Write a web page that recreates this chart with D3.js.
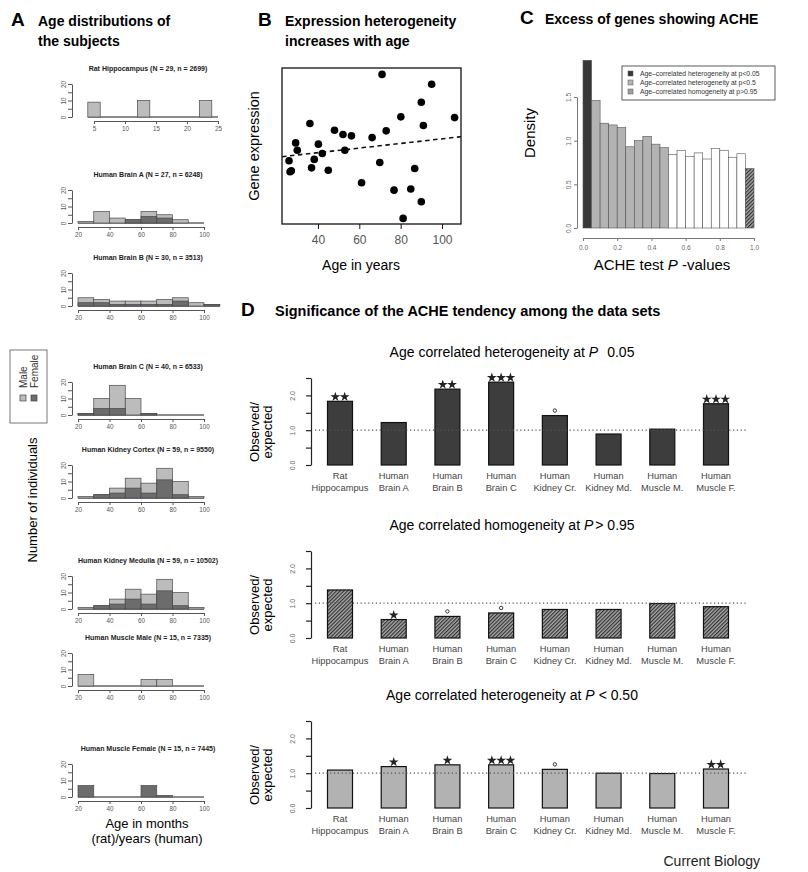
<!DOCTYPE html>
<html>
<head>
<meta charset="utf-8">
<script src="https://cdn.jsdelivr.net/npm/d3@7"></script>
<style>
  body { margin: 0; background: #fff; }
  svg { display: block; font-family: 'Liberation Sans', Arial, Helvetica, sans-serif; }
</style>
</head>
<body>
<div id="fig"></div>
<script>
'use strict';

// ---------- panel A : age histograms (total count, female part) ----------
var histTitles = [
  'Rat Hippocampus  (N = 29, n = 2699)',
  'Human Brain A  (N = 27, n = 6248)',
  'Human Brain B  (N = 30, n = 3513)',
  'Human Brain C  (N = 40, n = 6533)',
  'Human Kidney Cortex  (N = 59, n = 9550)',
  'Human Kidney Medulla  (N = 59, n = 10502)',
  'Human Muscle Male  (N = 15, n = 7335)',
  'Human Muscle Female  (N = 15, n = 7445)'
];
var ratTicks = [5, 10, 15, 20, 25];
var humanTicks = [20, 40, 60, 80, 100];
var countTicks = [0, 5, 10, 15, 20];

var ratTotal = [9, 0, 0, 0, 10, 0, 0, 0, 0, 10];          // bins of 2 months from 4
var brainATotal = [1, 7, 3, 2, 7, 5, 2, 0];               // bins of 10 years from 20
var brainAFemale = [0, 0, 0, 2, 4, 3, 0, 0];
var brainBTotal = [5, 4, 3, 3, 3, 4, 5, 2, 1];
var brainBFemale = [2, 2, 1, 1, 1, 1, 3, 0, 1];
var brainCTotal = [1, 10, 18, 10, 1, 0, 0, 0];
var brainCFemale = [1, 4, 4, 0, 1, 0, 0, 0];
var kidneyTotal = [1, 2, 6, 12, 9, 18, 10, 1];
var kidneyFemale = [0, 2, 3, 6, 3, 11, 2, 0];
var muscleMaleTotal = [7, 0, 0, 0, 4, 4, 0, 0];
var muscleFemaleTotal = [7, 0, 0, 0, 7, 1, 0, 0];

// ---------- panel B : example gene ----------
var ages = [26.0, 26.5, 27.1, 29.2, 30.0, 36.1, 36.9, 38.2, 40.2, 42.1, 45.0, 48.0, 52.1, 53.0, 56.2,
  61.1, 66.2, 69.9, 71.0, 73.0, 76.8, 80.1, 84.9, 86.8, 90.0, 90.0, 91.0, 95.0, 81.2, 106.1];
var expression = [4.05, 3.35, 3.41, 5.20, 4.73, 6.44, 3.60, 4.14, 5.12, 4.52, 3.45, 6.01, 5.74, 4.73, 5.65,
  2.64, 5.54, 3.94, 9.59, 5.97, 2.17, 6.87, 2.24, 3.56, 7.80, 1.43, 6.31, 8.96, 0.36, 6.82];
var trendIntercept = 3.98;
var trendSlope = 0.0148;
var ageTicks = [40, 60, 80, 100];

// ---------- panel C : p-value histogram ----------
var pBinWidth = 0.05;
var pDensity = [1.92, 1.46, 1.20, 1.18, 1.15, 0.93, 1.00, 1.05, 0.96, 0.92,
  0.84, 0.89, 0.82, 0.86, 0.79, 0.91, 0.89, 0.81, 0.85, 0.68];
var pTicks = [0, 0.2, 0.4, 0.6, 0.8, 1.0];
var densityTicks = [0, 0.5, 1.0, 1.5];
var pLegend = ['Age\u2013correlated heterogeneity at p<0.05', 'Age\u2013correlated heterogeneity at p<0.5',
  'Age\u2013correlated homogeneity at p>0.95'];

// ---------- panel D : observed / expected per data set ----------
var datasets = ['Rat Hippocampus', 'Human Brain A', 'Human Brain B', 'Human Brain C',
  'Human Kidney Cr.', 'Human Kidney Md.', 'Human Muscle M.', 'Human Muscle F.'];
var het05 = [1.83, 1.22, 2.18, 2.38, 1.42, 0.89, 1.03, 1.76];
var het05Marks = ['**', '', '**', '***', 'o', '', '', '***'];
var hom95 = [1.38, 0.53, 0.62, 0.72, 0.82, 0.82, 0.99, 0.90];
var hom95Marks = ['', '*', 'o', 'o', '', '', '', ''];
var het50 = [1.09, 1.19, 1.24, 1.24, 1.11, 1.00, 0.99, 1.12];
var het50Marks = ['', '*', '*', '***', 'o', '', '', '**'];
var ratioTicks = [0, 0.5, 1.0, 1.5, 2.0, 2.5];

var LIGHT = '#bcbcbc';
var DARK = '#6c6c6c';

var svg = d3.select('#fig').append('svg').attr('width', 808).attr('height', 872);
svg.append('rect').attr('width', 808).attr('height', 872).attr('fill', '#fff');

var defs = svg.append('defs');
var hatch = defs.append('pattern').attr('id', 'hatch').attr('patternUnits', 'userSpaceOnUse')
  .attr('width', 2.6).attr('height', 2.6).attr('patternTransform', 'rotate(45)');
hatch.append('rect').attr('width', 2.6).attr('height', 2.6).attr('fill', '#a8a8a8');
hatch.append('line').attr('x1', 0.6).attr('y1', 0).attr('x2', 0.6).attr('y2', 2.6)
  .attr('stroke', '#2a2a2a').attr('stroke-width', 1.1);

function heading(letter, lines, x, xText, y, size) {
  svg.append('text').attr('x', x).attr('y', y).attr('font-size', 19).attr('font-weight', 'bold').text(letter);
  lines.forEach(function (l, i) {
    svg.append('text').attr('x', xText).attr('y', y + i * 20).attr('font-size', size)
      .attr('font-weight', 'bold').text(l);
  });
}

heading('A', ['Age distributions of', 'the subjects'], 11, 38, 26, 14);
heading('B', ['Expression heterogeneity', 'increases with age'], 258, 285, 26, 14);
heading('C', ['Excess of genes showing ACHE'], 520, 545, 24, 14);
heading('D', ['Significance of the ACHE tendency among the data sets'], 241, 275, 316, 14.5);

// ---------------- panel A ----------------
var histBase = [117, 223, 306, 415, 498, 609, 686, 797];
var hists = [
  { total: ratTotal, female: null, start: 4, bw: 2, ticks: ratTicks, dom: [5, 25], rng: [94, 218] },
  { total: brainATotal, female: brainAFemale, start: 20, bw: 10, ticks: humanTicks },
  { total: brainBTotal, female: brainBFemale, start: 20, bw: 10, ticks: humanTicks },
  { total: brainCTotal, female: brainCFemale, start: 20, bw: 10, ticks: humanTicks },
  { total: kidneyTotal, female: kidneyFemale, start: 20, bw: 10, ticks: humanTicks },
  { total: kidneyTotal, female: kidneyFemale, start: 20, bw: 10, ticks: humanTicks },
  { total: muscleMaleTotal, female: null, start: 20, bw: 10, ticks: humanTicks },
  { total: null, female: muscleFemaleTotal, start: 20, bw: 10, ticks: humanTicks }
];

function binsOf(counts, start, bw) {
  return counts.map(function (c, i) { return { x0: start + i * bw, x1: start + (i + 1) * bw, n: c }; });
}

hists.forEach(function (h, k) {
  var y0 = histBase[k];
  var x = d3.scaleLinear().domain(h.dom || [20, 100]).range(h.rng || [78, 204]);
  var y = d3.scaleLinear().domain([0, 20]).range([y0, y0 - 33]);
  var g = svg.append('g');

  g.append('text').attr('x', 148).attr('y', y0 - 46).attr('text-anchor', 'middle')
    .attr('font-size', 7).attr('font-weight', 'bold').attr('fill', '#222').text(histTitles[k]);

  var n = (h.total || h.female).length;
  var last = h.start + n * h.bw;
  g.append('line').attr('x1', x(h.start)).attr('x2', x(Math.max(last, d3.max(h.ticks))))
    .attr('y1', y0).attr('y2', y0).attr('stroke', '#666').attr('stroke-width', 1.6);

  [[h.total, LIGHT], [h.female, DARK]].forEach(function (s) {
    if (!s[0]) return;
    g.selectAll(null).data(binsOf(s[0], h.start, h.bw).filter(function (b) { return b.n > 0; }))
      .enter().append('rect')
      .attr('x', function (b) { return x(b.x0); })
      .attr('width', function (b) { return x(b.x1) - x(b.x0); })
      .attr('y', function (b) { return y(b.n); })
      .attr('height', function (b) { return y0 - y(b.n); })
      .attr('fill', s[1]).attr('stroke', '#4a4a4a').attr('stroke-width', 0.7);
  });

  var xa = g.append('g').attr('transform', 'translate(0,' + (y0 + 4) + ')')
    .call(d3.axisBottom(x).tickValues(h.ticks).tickSize(3).tickSizeOuter(0));
  xa.select('.domain').attr('stroke', '#555');
  xa.selectAll('line').attr('stroke', '#555');
  xa.selectAll('text').attr('font-size', 6.3).attr('fill', '#555').attr('y', 6);

  var ya = g.append('g').attr('transform', 'translate(72,0)')
    .call(d3.axisLeft(y).tickValues(countTicks).tickSize(4).tickSizeOuter(0)
      .tickFormat(function (d) { return d % 10 === 0 ? d : ''; }));
  ya.select('.domain').attr('stroke', '#555');
  ya.selectAll('line').attr('stroke', '#555');
  ya.selectAll('text').attr('font-size', 6.3).attr('fill', '#555').attr('transform', 'rotate(-90)')
    .attr('x', 0).attr('y', -6).attr('dy', 0).attr('text-anchor', 'middle');
});

// legend and axis titles for A
svg.append('rect').attr('x', 10).attr('y', 350).attr('width', 37).attr('height', 73)
  .attr('fill', '#fff').attr('stroke', '#555').attr('stroke-width', 0.8);
[['Male', LIGHT, 27], ['Female', DARK, 38]].forEach(function (e) {
  svg.append('rect').attr('x', e[2] - 7).attr('y', 395).attr('width', 6).attr('height', 6)
    .attr('fill', e[1]).attr('stroke', '#444').attr('stroke-width', 0.7);
  svg.append('text').attr('transform', 'translate(' + e[2] + ',388) rotate(-90)')
    .attr('font-size', 10).attr('fill', '#333').text(e[0]);
});
svg.append('text').attr('transform', 'translate(37,500) rotate(-90)').attr('text-anchor', 'middle')
  .attr('font-size', 13).text('Number of individuals');
svg.append('text').attr('x', 147).attr('y', 828).attr('text-anchor', 'middle').attr('font-size', 13)
  .text('Age in months');
svg.append('text').attr('x', 147).attr('y', 843).attr('text-anchor', 'middle').attr('font-size', 13)
  .text('(rat)/years (human)');

// ---------------- panel B ----------------
(function () {
  var x = d3.scaleLinear().domain([22.6, 109.2]).range([282, 461]);
  var y = d3.scaleLinear().domain([0, 10]).range([224, 68]);
  var g = svg.append('g');
  g.append('rect').attr('x', x.range()[0]).attr('y', y.range()[1])
    .attr('width', x.range()[1] - x.range()[0]).attr('height', y.range()[0] - y.range()[1])
    .attr('fill', 'none').attr('stroke', '#111').attr('stroke-width', 1.3);
  var dom = x.domain();
  g.append('line').attr('x1', x(dom[0])).attr('x2', x(dom[1]))
    .attr('y1', y(trendIntercept + trendSlope * dom[0])).attr('y2', y(trendIntercept + trendSlope * dom[1]))
    .attr('stroke', '#111').attr('stroke-width', 1.6).attr('stroke-dasharray', '4.5,3.5');
  g.selectAll(null).data(ages).enter().append('circle')
    .attr('cx', function (d) { return x(d); })
    .attr('cy', function (d, i) { return y(expression[i]); })
    .attr('r', 3.8).attr('fill', '#000');
  var xa = g.append('g').attr('transform', 'translate(0,224)')
    .call(d3.axisBottom(x).tickValues(ageTicks).tickSize(5).tickSizeOuter(0));
  xa.select('.domain').remove();
  xa.selectAll('line').attr('stroke', '#111');
  xa.selectAll('text').attr('font-size', 12).attr('fill', '#555').attr('y', 9).attr('dy', '0.95em');
  g.append('text').attr('x', 361).attr('y', 270).attr('text-anchor', 'middle').attr('font-size', 14)
    .text('Age in years');
  g.append('text').attr('transform', 'translate(259,146) rotate(-90)').attr('text-anchor', 'middle')
    .attr('font-size', 14.5).text('Gene expression');
})();

// ---------------- panel C ----------------
(function () {
  var x = d3.scaleLinear().domain([0, 1]).range([583, 754]);
  var y = d3.scaleLinear().domain([0, 1.5]).range([228, 97]);
  var g = svg.append('g');
  function fillOf(p) {
    if (p < 0.05) return '#383838';
    if (p < 0.5) return '#b3b3b3';
    if (p >= 0.95) return 'url(#hatch)';
    return '#fff';
  }
  g.selectAll(null).data(pDensity).enter().append('rect')
    .attr('x', function (d, i) { return x(i * pBinWidth); })
    .attr('width', x(pBinWidth) - x(0))
    .attr('y', function (d) { return y(d); })
    .attr('height', function (d) { return y(0) - y(d); })
    .attr('fill', function (d, i) { return fillOf(i * pBinWidth + 0.001); })
    .attr('stroke', '#555').attr('stroke-width', 0.6);

  var xa = g.append('g').attr('transform', 'translate(0,238)')
    .call(d3.axisBottom(x).tickValues(pTicks).tickSize(3).tickSizeOuter(0).tickFormat(d3.format('.1f')));
  xa.select('.domain').attr('stroke', '#777');
  xa.selectAll('line').attr('stroke', '#777');
  xa.selectAll('text').attr('font-size', 6.5).attr('fill', '#666').attr('y', 7);

  var ya = g.append('g').attr('transform', 'translate(577,0)')
    .call(d3.axisLeft(y).tickValues(densityTicks).tickSize(3).tickSizeOuter(0).tickFormat(d3.format('.1f')));
  ya.select('.domain').attr('stroke', '#777');
  ya.selectAll('line').attr('stroke', '#777');
  ya.selectAll('text').attr('font-size', 6.5).attr('fill', '#666').attr('transform', 'rotate(-90)')
    .attr('x', 0).attr('y', -6).attr('dy', 0).attr('text-anchor', 'middle');

  var lg = g.append('g').attr('transform', 'translate(622,66)');
  lg.append('rect').attr('width', 153).attr('height', 34).attr('fill', '#fff')
    .attr('stroke', '#333').attr('stroke-width', 0.8);
  var legFills = ['#383838', '#b3b3b3', '#9e9e9e'];
  pLegend.forEach(function (t, i) {
    lg.append('rect').attr('x', 6).attr('y', 5 + i * 9).attr('width', 5).attr('height', 5)
      .attr('fill', legFills[i]).attr('stroke', '#555').attr('stroke-width', 0.5);
    lg.append('text').attr('x', 18).attr('y', 10 + i * 9).attr('font-size', 6.8).attr('fill', '#333').text(t);
  });

  g.append('text').attr('transform', 'translate(535,133) rotate(-90)').attr('text-anchor', 'middle')
    .attr('font-size', 15).text('Density');
  var xl = g.append('text').attr('x', 662).attr('y', 270).attr('text-anchor', 'middle').attr('font-size', 15);
  xl.append('tspan').text('ACHE test ');
  xl.append('tspan').attr('font-style', 'italic').text('P');
  xl.append('tspan').text(' -values');
})();

// ---------------- panel D ----------------
var star = d3.symbol().type(d3.symbolStar).size(30);

function ratioPanel(values, marks, y0, titleParts, fill) {
  var x = d3.scalePoint().domain(datasets).range([340, 716]);
  var y = d3.scaleLinear().domain([0, 2.5]).range([y0, y0 - 87]);
  var g = svg.append('g');
  var barW = 25;

  var t = g.append('text').attr('x', 512).attr('y', y0 - 108).attr('text-anchor', 'middle').attr('font-size', 14);
  t.append('tspan').text(titleParts[0]);
  t.append('tspan').attr('font-style', 'italic').text('P');
  t.append('tspan').attr('dx', titleParts[2]).text(titleParts[1]);

  g.selectAll(null).data(values).enter().append('rect')
    .attr('x', function (d, i) { return x(datasets[i]) - barW / 2; })
    .attr('width', barW)
    .attr('y', function (d) { return y(d); })
    .attr('height', function (d) { return y0 - y(d); })
    .attr('fill', fill).attr('stroke', '#111').attr('stroke-width', 1.2);

  g.append('line').attr('x1', 315).attr('x2', 747).attr('y1', y(1)).attr('y2', y(1))
    .attr('stroke', '#555').attr('stroke-width', 1.3).attr('stroke-dasharray', '1.2,2.6');

  marks.forEach(function (m, i) {
    if (!m) return;
    var cx = x(datasets[i]);
    var top = y(values[i]);
    if (m === 'o') {
      g.append('circle').attr('cx', cx).attr('cy', top - 5).attr('r', 1.7)
        .attr('fill', 'none').attr('stroke', '#222').attr('stroke-width', 0.9);
    } else {
      var k = m.length;
      for (var s = 0; s < k; s++) {
        g.append('path').attr('d', star)
          .attr('transform', 'translate(' + (cx + (s - (k - 1) / 2) * 9.3) + ',' + (top - 4.5) + ')')
          .attr('fill', '#222');
      }
    }
  });

  var ya = g.append('g').attr('transform', 'translate(311,0)')
    .call(d3.axisLeft(y).tickValues(ratioTicks).tickSize(5).tickSizeOuter(0)
      .tickFormat(function (d) { return d % 1 === 0 ? d3.format('.1f')(d) : ''; }));
  ya.select('.domain').attr('stroke', '#222').attr('stroke-width', 1.2);
  ya.selectAll('line').attr('stroke', '#222').attr('stroke-width', 1.2);
  ya.selectAll('text').attr('font-size', 7).attr('fill', '#666').attr('transform', 'rotate(-90)')
    .attr('x', 0).attr('y', -16).attr('dy', 0).attr('text-anchor', 'middle');

  datasets.forEach(function (name) {
    var sp = name.indexOf(' ');
    [name.slice(0, sp), name.slice(sp + 1)].forEach(function (line, j) {
      g.append('text').attr('x', x(name)).attr('y', y0 + 14 + j * 12).attr('text-anchor', 'middle')
        .attr('font-size', 9.3).attr('fill', '#444').text(line);
    });
  });

  var cy = y0 - 33;
  g.append('text').attr('transform', 'translate(259,' + cy + ') rotate(-90)').attr('text-anchor', 'middle')
    .attr('font-size', 13).text('Observed/');
  g.append('text').attr('transform', 'translate(272,' + cy + ') rotate(-90)').attr('text-anchor', 'middle')
    .attr('font-size', 13).text('expected');
}

ratioPanel(het05, het05Marks, 465, ['Age correlated heterogeneity at ', '0.05', 9], '#3d3d3d');
ratioPanel(hom95, hom95Marks, 638, ['Age correlated homogeneity at ', '> 0.95', 2], 'url(#hatch)');
ratioPanel(het50, het50Marks, 808, ['Age correlated heterogeneity at ', '< 0.50', 4], '#b2b2b2');

svg.append('text').attr('x', 760).attr('y', 866).attr('text-anchor', 'end').attr('font-size', 14)
  .attr('fill', '#222').text('Current Biology');
</script>
</body>
</html>
